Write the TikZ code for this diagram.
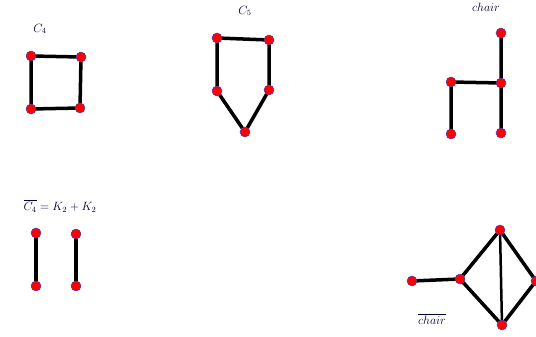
\documentclass[tikz,border=0pt]{standalone}
\usetikzlibrary{calc}
\begin{document}
\begin{tikzpicture}[x=1pt,y=-1pt,
  vtx/.style={circle,fill=red,draw=blue!50!gray,line width=0.5pt,inner sep=0pt,minimum size=10pt},
  edge/.style={line width=3.5pt,black},
  lbl/.style={font=\large,text=black!80!blue}]
\useasboundingbox (0,0) rectangle (536,337);
% C4
\node[lbl] (lc4) at (40,29) {$C_4$};
\coordinate (a1) at (31,56); \coordinate (a2) at (81,57);
\coordinate (a3) at (80,108); \coordinate (a4) at (31,109);
\draw[edge] (a1)--(a2)--(a3)--(a4)--cycle;
\foreach \n in {a1,a2,a3,a4} \node[vtx] at (\n) {};
% C5
\node[lbl] (lc5) at (245,11) {$C_5$};
\coordinate (b1) at (217,38); \coordinate (b2) at (269,40);
\coordinate (b3) at (269,90); \coordinate (b4) at (245,132);
\coordinate (b5) at (217,91);
\draw[edge] (b1)--(b2)--(b3)--(b4)--(b5)--cycle;
\foreach \n in {b1,b2,b3,b4,b5} \node[vtx] at (\n) {};
% chair
\node[lbl] (lch) at (486,7) {$chair$};
\coordinate (c1) at (501,33); \coordinate (c2) at (451,82);
\coordinate (c3) at (501,83); \coordinate (c4) at (451,134);
\coordinate (c5) at (501,133);
\draw[edge] (c1)--(c3)--(c5) (c2)--(c3) (c2)--(c4);
\foreach \n in {c1,c2,c3,c4,c5} \node[vtx] at (\n) {};
% complement C4
\node[lbl] (lcc) at (60,206) {$\overline{C_4}=K_2+K_2$};
\coordinate (d1) at (36,233); \coordinate (d2) at (36,286);
\coordinate (d3) at (76,234); \coordinate (d4) at (76,286);
\draw[edge] (d1)--(d2) (d3)--(d4);
\foreach \n in {d1,d2,d3,d4} \node[vtx] at (\n) {};
% complement chair
\node[lbl] (lcch) at (432,319) {$\overline{chair}$};
\coordinate (e1) at (412,281); \coordinate (e2) at (460,279);
\coordinate (e3) at (500,230); \coordinate (e4) at (536,281);
\coordinate (e5) at (502,325);
\draw[edge] (e1)--(e2) (e2)--(e3) (e2)--(e5) (e3)--(e4)--(e5);
\draw[line width=2.5pt] (e3)--(e5);
\foreach \n in {e1,e2,e3,e4,e5} \node[vtx] at (\n) {};
\end{tikzpicture}
\end{document}
